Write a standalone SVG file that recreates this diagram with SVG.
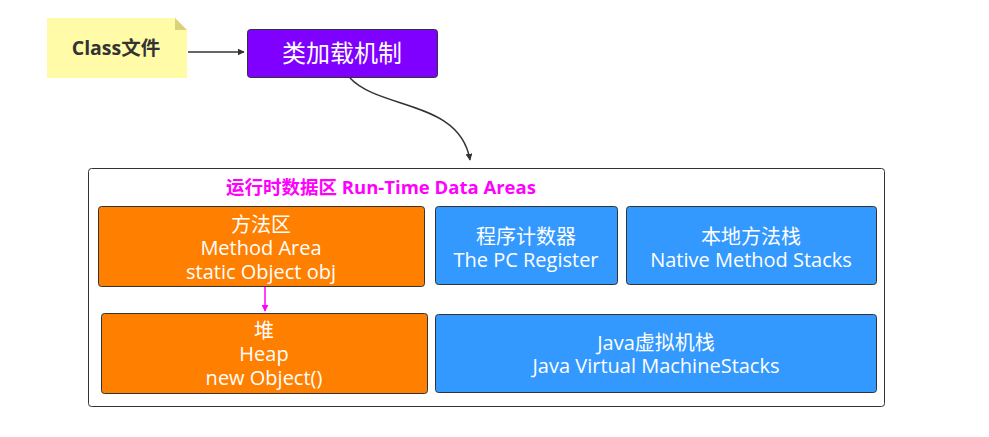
<svg xmlns="http://www.w3.org/2000/svg" width="989" height="437" viewBox="0 0 989 437">
<style>
.t{font-family:"Open Sans","Noto Sans CJK SC",sans-serif;font-size:20px;fill:#fff;text-anchor:middle}
.box{stroke:#333;stroke-width:1}
.or{fill:#FF8000}
.bl{fill:#3399FF}
.c{fill:none;stroke:#333;stroke-width:1.5}
</style>
<defs>
<marker id="ah" viewBox="0 0 10 10" refX="9" refY="5" markerWidth="7" markerHeight="7" orient="auto" markerUnits="userSpaceOnUse"><path d="M0,0 L10,5 L0,10 z" fill="#333"/></marker>
<marker id="am" viewBox="0 0 10 10" refX="9" refY="5" markerWidth="7" markerHeight="7" orient="auto" markerUnits="userSpaceOnUse"><path d="M0,0 L10,5 L0,10 z" fill="#FF00FF"/></marker>
</defs>
<rect width="989" height="437" fill="#fff"/>
<g id="container">
<rect x="88.5" y="168.5" width="796" height="238" rx="3" fill="#fff" stroke="#333" stroke-width="1"/>
<text x="226" y="194" font-family="'Open Sans','Noto Sans CJK SC',sans-serif" font-size="18.5" font-weight="bold" fill="#FF00FF">运行时数据区 Run-Time Data Areas</text>
</g>
<g id="class-file">
<path d="M47,18 H175 L187,30 V78 H47 Z" fill="#FFFBA6"/>
<path d="M175,18 L187,30 H175 Z" fill="#D9D27A"/>
<text x="116" y="55" font-family="'Open Sans','Noto Sans CJK SC',sans-serif" font-size="19.5" font-weight="bold" fill="#333" text-anchor="middle">Class文件</text>
</g>
<g id="class-loader">
<rect class="box" x="247.5" y="29.5" width="190" height="48" rx="3" fill="#7F00FF"/>
<text class="t" x="342" y="62" style="font-size:24px">类加载机制</text>
</g>
<g id="method-area">
<rect class="box or" x="98.5" y="206.5" width="326" height="80" rx="3"/>
<text class="t" x="261" y="232">方法区</text>
<text class="t" x="261" y="255">Method Area</text>
<text class="t" x="261" y="279">static Object obj</text>
</g>
<g id="pc-register">
<rect class="box bl" x="435.5" y="206.5" width="182" height="78" rx="3"/>
<text class="t" x="526" y="244">程序计数器</text>
<text class="t" x="526" y="267">The PC Register</text>
</g>
<g id="native-stacks">
<rect class="box bl" x="626.5" y="206.5" width="250" height="78" rx="3"/>
<text class="t" x="751" y="244">本地方法栈</text>
<text class="t" x="751" y="267">Native Method Stacks</text>
</g>
<g id="heap">
<rect class="box or" x="101.5" y="313.5" width="326" height="80" rx="3"/>
<text class="t" x="264" y="338">堆</text>
<text class="t" x="264" y="361">Heap</text>
<text class="t" x="264" y="385">new Object()</text>
</g>
<g id="jvm-stacks">
<rect class="box bl" x="435.5" y="314.5" width="441" height="78" rx="3"/>
<text class="t" x="656" y="350">Java虚拟机栈</text>
<text class="t" x="656" y="373">Java Virtual MachineStacks</text>
</g>
<g id="connectors">
<path class="c" d="M188,52 H244" marker-end="url(#ah)"/>
<path class="c" d="M350,78 C380,110 460,100 470,160" marker-end="url(#ah)"/>
<path d="M265,287 V311" fill="none" stroke="#FF00FF" stroke-width="1.5" marker-end="url(#am)"/>
</g>
</svg>
